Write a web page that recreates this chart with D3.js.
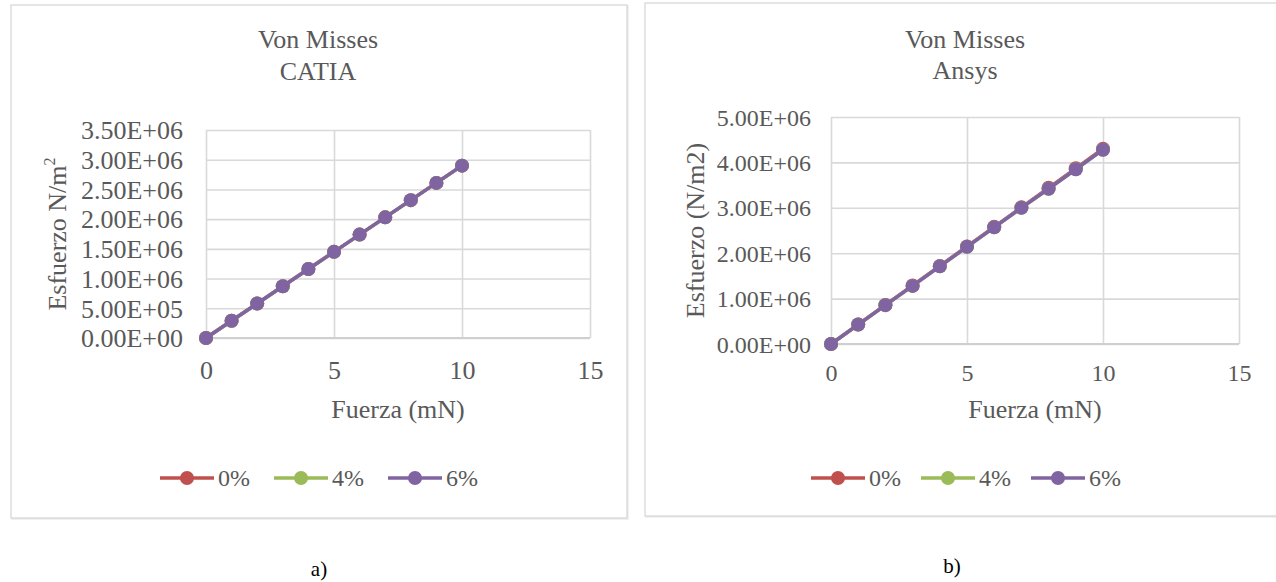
<!DOCTYPE html>
<html>
<head>
<meta charset="utf-8">
<script src="https://cdn.jsdelivr.net/npm/d3@7"></script>
<style>
  html, body { margin: 0; padding: 0; background: #ffffff; }
  svg { display: block; }
</style>
</head>
<body>
<svg id="chart" width="1276" height="582"></svg>
<script>
// ---------------- DATA ----------------
const fuerza = [0, 1, 2, 3, 4, 5, 6, 7, 8, 9, 10];
const seriesNames = ["0%", "4%", "6%"];
const seriesColors = ["#C0504D", "#9BBB59", "#8064A2"];

// CATIA (N/m²)
const catia0 = [0, 2.90e5, 5.80e5, 8.70e5, 1.16e6, 1.45e6, 1.74e6, 2.03e6, 2.32e6, 2.61e6, 2.90e6];
const catia4 = [0, 2.90e5, 5.80e5, 8.70e5, 1.16e6, 1.45e6, 1.74e6, 2.03e6, 2.32e6, 2.61e6, 2.90e6];
const catia6 = [0, 2.90e5, 5.80e5, 8.70e5, 1.16e6, 1.45e6, 1.74e6, 2.03e6, 2.32e6, 2.61e6, 2.90e6];

// Ansys (N/m2)
const ansys0 = [0, 4.30e5, 8.60e5, 1.29e6, 1.72e6, 2.15e6, 2.58e6, 3.01e6, 3.44e6, 3.87e6, 4.30e6];
const ansys4 = [0, 4.28e5, 8.56e5, 1.28e6, 1.71e6, 2.14e6, 2.57e6, 3.00e6, 3.42e6, 3.85e6, 4.28e6];
const ansys6 = [0, 4.28e5, 8.56e5, 1.28e6, 1.71e6, 2.14e6, 2.57e6, 3.00e6, 3.42e6, 3.85e6, 4.28e6];

const xTicks = [0, 5, 10, 15];
const yTicksCatia = [0, 5e5, 1e6, 1.5e6, 2e6, 2.5e6, 3e6, 3.5e6];
const yTicksAnsys = [0, 1e6, 2e6, 3e6, 4e6, 5e6];

const titleCatia = ["Von Misses", "CATIA"];
const titleAnsys = ["Von Misses", "Ansys"];
const xTitle = "Fuerza (mN)";
const yTitleCatia = ["Esfuerzo N/m", "2"];
const yTitleAnsys = ["Esfuerzo (N/m2)", ""];
const panelLabels = ["a)", "b)"];

// ---------------- HELPERS ----------------
const FONT = "Liberation Serif";
function sci(d) {
  if (d === 0) return "0.00E+00";
  const e = Math.floor(Math.log10(Math.abs(d)) + 1e-9);
  const m = d / Math.pow(10, e);
  return m.toFixed(2) + "E" + (e < 0 ? "-" : "+") + String(Math.abs(e)).padStart(2, "0");
}

const svg = d3.select("#chart").style("font-family", FONT);
const TXT = "#595959";
const GRID = "#d9d9d9";

function drawChart(cfg) {
  const g = svg.append("g");

  // outer box
  g.append("rect")
    .attr("x", cfg.box.x + 1).attr("y", cfg.box.y + 1)
    .attr("width", cfg.box.w).attr("height", cfg.box.h)
    .attr("fill", "none").attr("stroke", "#ececec").attr("stroke-width", 1.5);
  g.append("rect")
    .attr("x", cfg.box.x).attr("y", cfg.box.y)
    .attr("width", cfg.box.w).attr("height", cfg.box.h)
    .attr("fill", "#fff").attr("stroke", "#d4d4d4").attr("stroke-width", 1.2);

  const x = d3.scaleLinear().domain([0, 15]).range([cfg.plot.x0, cfg.plot.x1]);
  const y = d3.scaleLinear().domain([0, cfg.yMax]).range([cfg.plot.y0, cfg.plot.y1]);

  // horizontal gridlines
  g.append("g")
    .attr("transform", `translate(${cfg.plot.x0},0)`)
    .call(d3.axisLeft(y).tickValues(cfg.yTicks).tickSize(-(cfg.plot.x1 - cfg.plot.x0)).tickFormat(""))
    .call(s => s.select(".domain").remove())
    .call(s => s.selectAll("line").attr("stroke", GRID).attr("stroke-width", 1.6));

  // vertical gridlines
  g.append("g")
    .attr("transform", `translate(0,${cfg.plot.y0})`)
    .call(d3.axisBottom(x).tickValues(xTicks).tickSize(-(cfg.plot.y0 - cfg.plot.y1)).tickFormat(""))
    .call(s => s.select(".domain").remove())
    .call(s => s.selectAll("line").attr("stroke", GRID).attr("stroke-width", 1.6));

  // bottom axis line
  g.append("line")
    .attr("x1", cfg.plot.x0).attr("x2", cfg.plot.x1)
    .attr("y1", cfg.plot.y0).attr("y2", cfg.plot.y0)
    .attr("stroke", "#cfcfcf").attr("stroke-width", 1.8);

  // y tick labels
  g.append("g")
    .attr("transform", `translate(${cfg.plot.x0},0)`)
    .call(d3.axisLeft(y).tickValues(cfg.yTicks).tickSize(0).tickPadding(cfg.yPad).tickFormat(sci))
    .call(s => s.select(".domain").remove())
    .call(s => s.selectAll("text")
      .attr("fill", TXT).style("font-size", cfg.tickFont + "px")
      .style("font-family", FONT)
      .attr("dy", "0.34em"));

  // x tick labels
  g.append("g")
    .attr("transform", `translate(0,${cfg.plot.y0})`)
    .call(d3.axisBottom(x).tickValues(xTicks).tickSize(0).tickPadding(0).tickFormat(d3.format("d")))
    .call(s => s.select(".domain").remove())
    .call(s => s.selectAll("text")
      .attr("fill", TXT).style("font-size", cfg.tickFont + "px")
      .style("font-family", FONT)
      .attr("y", cfg.xTickBase).attr("dy", 0));

  // title
  const t = g.append("text")
    .attr("text-anchor", "middle").attr("fill", TXT)
    .style("font-family", FONT).style("font-size", "26px");
  cfg.title.forEach((line, i) => {
    t.append("tspan").attr("x", cfg.titleX).attr("y", cfg.titleY[i]).text(line);
  });

  // x title
  g.append("text")
    .attr("x", (cfg.plot.x0 + cfg.plot.x1) / 2).attr("y", cfg.xTitleY)
    .attr("text-anchor", "middle").attr("fill", TXT)
    .style("font-family", FONT).style("font-size", "26px")
    .text(xTitle);

  // y title
  const yt = g.append("text")
    .attr("transform", `translate(${cfg.yTitleX},${(cfg.plot.y0 + cfg.plot.y1) / 2}) rotate(-90)`)
    .attr("text-anchor", "middle").attr("fill", TXT)
    .style("font-family", FONT).style("font-size", "26px");
  yt.append("tspan").text(cfg.yTitle[0]);
  if (cfg.yTitle[1]) {
    yt.append("tspan").style("font-size", "16px").attr("dy", -11).text(cfg.yTitle[1]);
  }

  // series
  const line = d3.line().x((d, i) => x(fuerza[i])).y(d => y(d));
  cfg.series.forEach((vals, si) => {
    const sg = g.append("g");
    sg.append("path").datum(vals)
      .attr("d", line).attr("fill", "none")
      .attr("stroke", seriesColors[si]).attr("stroke-width", 3.5)
      .attr("stroke-linejoin", "round");
    sg.selectAll("circle").data(vals).join("circle")
      .attr("cx", (d, i) => x(fuerza[i])).attr("cy", d => y(d))
      .attr("r", 7).attr("fill", seriesColors[si]);
  });

  // legend
  seriesNames.forEach((name, i) => {
    const cx = cfg.legendX0 + i * cfg.legendStep;
    const lg = g.append("g");
    lg.append("line")
      .attr("x1", cx - 27).attr("x2", cx + 27)
      .attr("y1", cfg.legendY).attr("y2", cfg.legendY)
      .attr("stroke", seriesColors[i]).attr("stroke-width", 3.5);
    lg.append("circle").attr("cx", cx).attr("cy", cfg.legendY).attr("r", 7)
      .attr("fill", seriesColors[i]);
    lg.append("text")
      .attr("x", cx + 31).attr("y", cfg.legendY).attr("dy", "0.35em")
      .attr("fill", TXT).style("font-family", FONT).style("font-size", "24px").text(name);
  });
}

drawChart({
  box: { x: 11, y: 5, w: 616, h: 513 },
  plot: { x0: 206, x1: 590, y0: 338, y1: 130 },
  yMax: 3.5e6, yTicks: yTicksCatia,
  series: [catia0, catia4, catia6],
  tickFont: 26, yPad: 23, xTickBase: 41,
  title: titleCatia, titleX: 318, titleY: [48, 80],
  xTitleY: 418,
  yTitle: yTitleCatia, yTitleX: 66,
  legendX0: 187, legendStep: 114, legendY: 478
});

drawChart({
  box: { x: 645, y: 3, w: 632, h: 513 },
  plot: { x0: 831, x1: 1239, y0: 344, y1: 117 },
  yMax: 5e6, yTicks: yTicksAnsys,
  series: [ansys0, ansys4, ansys6],
  tickFont: 24, yPad: 20, xTickBase: 37,
  title: titleAnsys, titleX: 965, titleY: [48, 79],
  xTitleY: 418,
  yTitle: yTitleAnsys, yTitleX: 704,
  legendX0: 838, legendStep: 110, legendY: 478
});

// panel labels
svg.append("text").attr("x", 319).attr("y", 576).attr("text-anchor", "middle")
  .attr("fill", "#000").style("font-family", FONT).style("font-size", "21px").text(panelLabels[0]);
svg.append("text").attr("x", 952).attr("y", 573).attr("text-anchor", "middle")
  .attr("fill", "#000").style("font-family", FONT).style("font-size", "21px").text(panelLabels[1]);
</script>
</body>
</html>
